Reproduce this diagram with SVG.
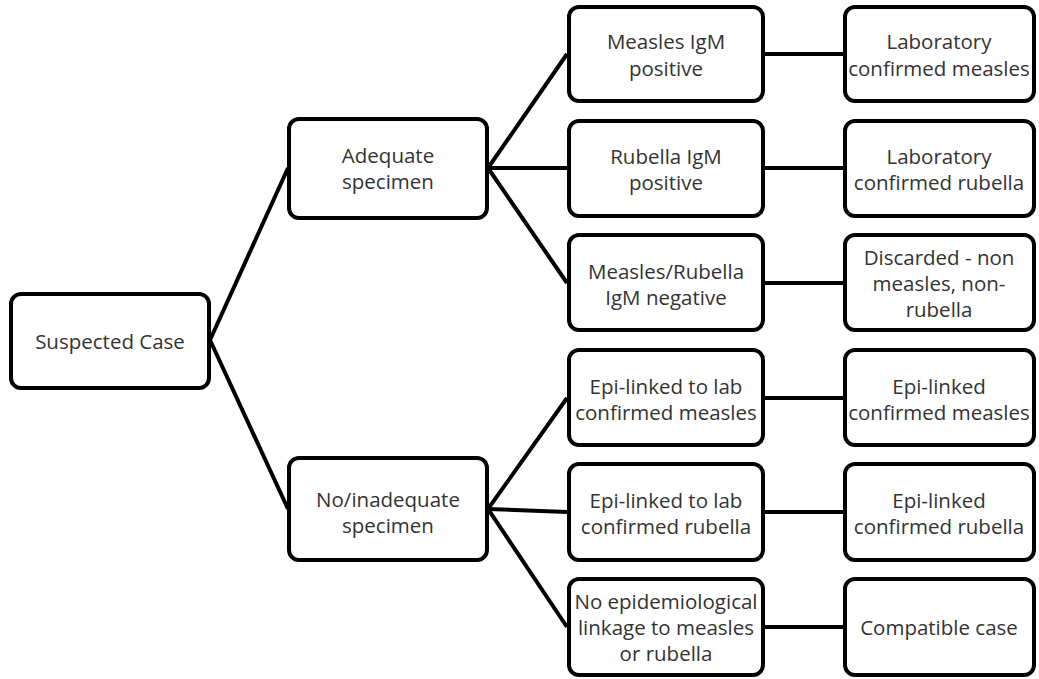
<svg xmlns="http://www.w3.org/2000/svg" width="1039" height="679" viewBox="0 0 1039 679">
<style>
.box{fill:#fff;stroke:#000;stroke-width:4;}
.lbl{font-family:"Open Sans","Liberation Sans",sans-serif;font-size:20.5px;fill:#333;text-anchor:middle;dominant-baseline:central;}
.con{stroke:#000;stroke-width:4;fill:none;}
</style>
<rect width="1039" height="679" fill="#fff"/>
<g id="connectors" class="con">
<line x1="210" y1="340" x2="288" y2="168"/>
<line x1="210" y1="340" x2="288" y2="509"/>
<line x1="488" y1="168" x2="567" y2="54"/>
<line x1="488" y1="168" x2="567" y2="168"/>
<line x1="488" y1="168" x2="567" y2="283"/>
<line x1="488" y1="509" x2="567" y2="398"/>
<line x1="488" y1="509" x2="567" y2="512"/>
<line x1="488" y1="509" x2="567" y2="627"/>
<line x1="765" y1="54" x2="843" y2="54"/>
<line x1="765" y1="168" x2="843" y2="168"/>
<line x1="765" y1="283" x2="843" y2="283"/>
<line x1="765" y1="398" x2="843" y2="398"/>
<line x1="765" y1="512" x2="843" y2="512"/>
<line x1="765" y1="627" x2="843" y2="627"/>
</g>
<g id="suspected"><rect class="box" x="11" y="294" width="198" height="94" rx="10"/><text class="lbl" x="110" y="341">Suspected Case</text></g>
<g id="adequate"><rect class="box" x="289" y="119" width="198" height="99" rx="10"/><text class="lbl" x="388" y="155">Adequate</text><text class="lbl" x="388" y="181">specimen</text></g>
<g id="inadequate"><rect class="box" x="289" y="458" width="198" height="102" rx="10"/><text class="lbl" x="388" y="499">No/inadequate</text><text class="lbl" x="388" y="525">specimen</text></g>
<g id="m-igm"><rect class="box" x="569" y="7" width="194" height="94" rx="10"/><text class="lbl" x="666" y="41">Measles IgM</text><text class="lbl" x="666" y="68">positive</text></g>
<g id="r-igm"><rect class="box" x="569" y="121" width="194" height="95" rx="10"/><text class="lbl" x="666" y="156">Rubella IgM</text><text class="lbl" x="666" y="182">positive</text></g>
<g id="neg"><rect class="box" x="569" y="235" width="194" height="95" rx="10"/><text class="lbl" x="666" y="271">Measles/Rubella</text><text class="lbl" x="666" y="297">IgM negative</text></g>
<g id="epi-m"><rect class="box" x="569" y="350" width="194" height="95" rx="10"/><text class="lbl" x="666" y="386">Epi-linked to lab</text><text class="lbl" x="666" y="412">confirmed measles</text></g>
<g id="epi-r"><rect class="box" x="569" y="464" width="194" height="96" rx="10"/><text class="lbl" x="666" y="500">Epi-linked to lab</text><text class="lbl" x="666" y="526">confirmed rubella</text></g>
<g id="no-epi"><rect class="box" x="569" y="579" width="194" height="96" rx="10"/><text class="lbl" x="666" y="601">No epidemiological</text><text class="lbl" x="666" y="627">linkage to measles</text><text class="lbl" x="666" y="653">or rubella</text></g>
<g id="lab-m"><rect class="box" x="845" y="7" width="189" height="94" rx="10"/><text class="lbl" x="939" y="41">Laboratory</text><text class="lbl" x="939" y="68">confirmed measles</text></g>
<g id="lab-r"><rect class="box" x="845" y="121" width="189" height="95" rx="10"/><text class="lbl" x="939" y="156">Laboratory</text><text class="lbl" x="939" y="182">confirmed rubella</text></g>
<g id="discarded"><rect class="box" x="845" y="235" width="189" height="95" rx="10"/><text class="lbl" x="939" y="257">Discarded - non</text><text class="lbl" x="939" y="283">measles, non-</text><text class="lbl" x="939" y="309">rubella</text></g>
<g id="epi-cm"><rect class="box" x="845" y="350" width="189" height="95" rx="10"/><text class="lbl" x="939" y="386">Epi-linked</text><text class="lbl" x="939" y="412">confirmed measles</text></g>
<g id="epi-cr"><rect class="box" x="845" y="464" width="189" height="96" rx="10"/><text class="lbl" x="939" y="500">Epi-linked</text><text class="lbl" x="939" y="526">confirmed rubella</text></g>
<g id="compat"><rect class="box" x="845" y="579" width="189" height="96" rx="10"/><text class="lbl" x="939" y="627">Compatible case</text></g>
</svg>
